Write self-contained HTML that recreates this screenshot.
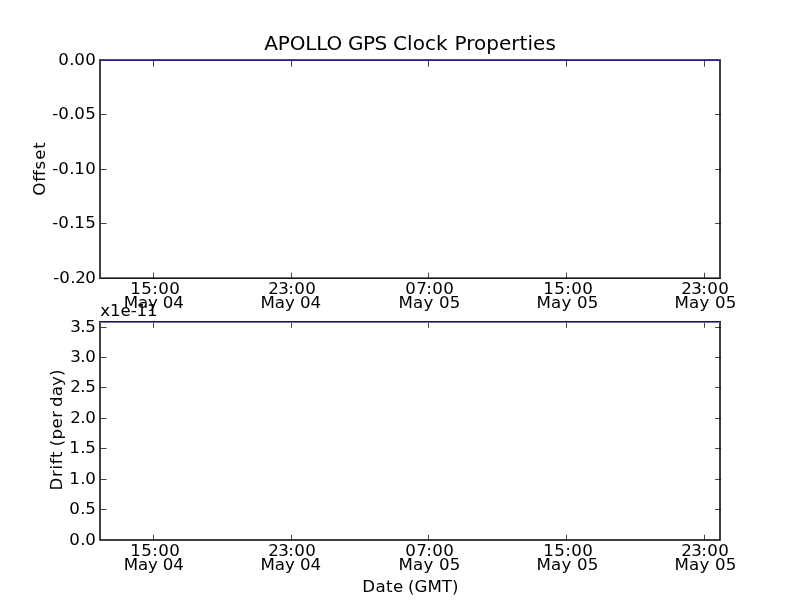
<!DOCTYPE html>
<html><head><meta charset="utf-8"><title>APOLLO GPS Clock Properties</title>
<style>
html,body{margin:0;padding:0;background:#fff;}
body{width:800px;height:600px;overflow:hidden;}
svg{display:block;}
text{font-family:"DejaVu Sans","Liberation Sans",sans-serif;fill:#000;}
.t{font-size:16.67px;}
.ti{font-size:20px;}
.ax{fill:none;stroke:#000;stroke-width:1.5;}
.tk{stroke:#000;stroke-width:1;stroke-opacity:0.73;}
</style></head><body>
<svg width="800" height="600" viewBox="0 0 800 600">
<rect width="800" height="600" fill="#fff"/>

<path class="ax" d="M100 59.5 V279 M720 59.5 V279"/>
<rect x="100.75" y="277" width="618.5" height="1" fill="#707070"/>
<rect x="99.25" y="278" width="621.5" height="1" fill="#181818"/>
<rect x="99" y="59" width="622" height="1" fill="#50504c"/>
<rect x="100" y="60" width="620" height="1" fill="#24247a"/>
<line class="tk" x1="153.5" y1="278.68" x2="153.5" y2="272.8"/>
<line class="tk" x1="153.5" y1="61" x2="153.5" y2="66.7"/>
<line class="tk" x1="291.5" y1="278.68" x2="291.5" y2="272.8"/>
<line class="tk" x1="291.5" y1="61" x2="291.5" y2="66.7"/>
<line class="tk" x1="428.5" y1="278.68" x2="428.5" y2="272.8"/>
<line class="tk" x1="428.5" y1="61" x2="428.5" y2="66.7"/>
<line class="tk" x1="566.5" y1="278.68" x2="566.5" y2="272.8"/>
<line class="tk" x1="566.5" y1="61" x2="566.5" y2="66.7"/>
<line class="tk" x1="704.5" y1="278.68" x2="704.5" y2="272.8"/>
<line class="tk" x1="704.5" y1="61" x2="704.5" y2="66.7"/>
<line class="tk" x1="101" y1="114.5" x2="106.6" y2="114.5"/>
<line class="tk" x1="721" y1="114.5" x2="715.1" y2="114.5"/>
<line class="tk" x1="101" y1="169.5" x2="106.6" y2="169.5"/>
<line class="tk" x1="721" y1="169.5" x2="715.1" y2="169.5"/>
<line class="tk" x1="101" y1="223.5" x2="106.6" y2="223.5"/>
<line class="tk" x1="721" y1="223.5" x2="715.1" y2="223.5"/>
<path class="ax" d="M100 321.32 V540 H720 V321.32"/>
<rect x="99" y="321" width="622" height="1" fill="#16164a"/>
<rect x="100" y="322" width="620" height="1" fill="#72729a"/>
<line class="tk" x1="153.5" y1="540.5" x2="153.5" y2="534.8"/>
<line class="tk" x1="153.5" y1="323" x2="153.5" y2="327.75"/>
<line class="tk" x1="291.5" y1="540.5" x2="291.5" y2="534.8"/>
<line class="tk" x1="291.5" y1="323" x2="291.5" y2="327.75"/>
<line class="tk" x1="428.5" y1="540.5" x2="428.5" y2="534.8"/>
<line class="tk" x1="428.5" y1="323" x2="428.5" y2="327.75"/>
<line class="tk" x1="566.5" y1="540.5" x2="566.5" y2="534.8"/>
<line class="tk" x1="566.5" y1="323" x2="566.5" y2="327.75"/>
<line class="tk" x1="704.5" y1="540.5" x2="704.5" y2="534.8"/>
<line class="tk" x1="704.5" y1="323" x2="704.5" y2="327.75"/>
<line class="tk" x1="101" y1="509.5" x2="106.6" y2="509.5"/>
<line class="tk" x1="721" y1="509.5" x2="715.1" y2="509.5"/>
<line class="tk" x1="101" y1="479.5" x2="106.6" y2="479.5"/>
<line class="tk" x1="721" y1="479.5" x2="715.1" y2="479.5"/>
<line class="tk" x1="101" y1="448.5" x2="106.6" y2="448.5"/>
<line class="tk" x1="721" y1="448.5" x2="715.1" y2="448.5"/>
<line class="tk" x1="101" y1="418.5" x2="106.6" y2="418.5"/>
<line class="tk" x1="721" y1="418.5" x2="715.1" y2="418.5"/>
<line class="tk" x1="101" y1="387.5" x2="106.6" y2="387.5"/>
<line class="tk" x1="721" y1="387.5" x2="715.1" y2="387.5"/>
<line class="tk" x1="101" y1="357.5" x2="106.6" y2="357.5"/>
<line class="tk" x1="721" y1="357.5" x2="715.1" y2="357.5"/>
<line class="tk" x1="101" y1="327.5" x2="106.6" y2="327.5"/>
<line class="tk" x1="721" y1="327.5" x2="715.1" y2="327.5"/>
<text class="t" x="58.20 69.20 74.20 85.20" y="65">0.00</text>
<text class="t" x="52.20 58.20 69.20 74.20 85.20" y="119">-0.05</text>
<text class="t" x="52.20 58.20 69.20 74.20 85.20" y="174">-0.10</text>
<text class="t" x="52.20 58.20 69.20 74.20 85.20" y="228">-0.15</text>
<text class="t" x="53.20 59.20 70.20 75.20 85.20" y="283">-0.20</text>
<text class="t" x="69.20 80.20 85.20" y="545">0.0</text>
<text class="t" x="69.20 80.20 85.20" y="514">0.5</text>
<text class="t" x="69.20 80.20 85.20" y="484">1.0</text>
<text class="t" x="69.20 80.20 85.20" y="453">1.5</text>
<text class="t" x="70.20 80.20 85.20" y="423">2.0</text>
<text class="t" x="70.20 80.20 85.20" y="392">2.5</text>
<text class="t" x="70.20 80.20 85.20" y="362">3.0</text>
<text class="t" x="70.20 80.20 85.20" y="332">3.5</text>
<text class="t" x="130.20 141.20 152.20 158.20 169.20" y="294">15:00</text>
<text class="t" x="130.20 141.20 152.20 158.20 169.20" y="556">15:00</text>
<text class="t" x="268.20 278.20 288.20 294.20 305.20" y="294">23:00</text>
<text class="t" x="268.20 278.20 288.20 294.20 305.20" y="556">23:00</text>
<text class="t" x="405.20 416.20 426.20 432.20 443.20" y="294">07:00</text>
<text class="t" x="405.20 416.20 426.20 432.20 443.20" y="556">07:00</text>
<text class="t" x="543.20 554.20 565.20 571.20 582.20" y="294">15:00</text>
<text class="t" x="543.20 554.20 565.20 571.20 582.20" y="556">15:00</text>
<text class="t" x="681.20 691.20 701.20 707.20 718.20" y="294">23:00</text>
<text class="t" x="681.20 691.20 701.20 707.20 718.20" y="556">23:00</text>
<text class="t" x="123.79" y="308" textLength="60.06" lengthAdjust="spacing">May 04</text>
<text class="t" x="123.79" y="570" textLength="60.06" lengthAdjust="spacing">May 04</text>
<text class="t" x="260.51" y="308" textLength="60.67" lengthAdjust="spacing">May 04</text>
<text class="t" x="260.51" y="570" textLength="60.67" lengthAdjust="spacing">May 04</text>
<text class="t" x="398.51" y="308" textLength="61.86" lengthAdjust="spacing">May 05</text>
<text class="t" x="398.51" y="570" textLength="61.86" lengthAdjust="spacing">May 05</text>
<text class="t" x="536.51" y="308" textLength="61.86" lengthAdjust="spacing">May 05</text>
<text class="t" x="536.51" y="570" textLength="61.86" lengthAdjust="spacing">May 05</text>
<text class="t" x="674.51" y="308" textLength="61.86" lengthAdjust="spacing">May 05</text>
<text class="t" x="674.51" y="570" textLength="61.86" lengthAdjust="spacing">May 05</text>
<text class="t" x="100.28" y="316" textLength="57.44" lengthAdjust="spacing">x1e-11</text>
<text class="t" transform="translate(45,195.75) rotate(-90)" textLength="53.56" lengthAdjust="spacing">Offset</text>
<text class="t g" y="592"><tspan x="362.30" textLength="40.88" lengthAdjust="spacing">Date</tspan> <tspan x="407.96" textLength="50.49" lengthAdjust="spacing">(GMT)</tspan></text>
<text class="t g" transform="translate(62,0) rotate(-90)"><tspan x="-490.53" textLength="38.94" lengthAdjust="spacing">Drift</tspan> <tspan x="-446.27" textLength="35.34" lengthAdjust="spacing">(per</tspan> <tspan x="-406.92" textLength="37.47" lengthAdjust="spacing">day)</tspan></text>
<text class="ti g" y="50"><tspan x="264.20" textLength="78.04" lengthAdjust="spacing">APOLLO</tspan> <tspan x="348.09" textLength="39.10" lengthAdjust="spacing">GPS</tspan> <tspan x="393.01" textLength="54.66" lengthAdjust="spacing">Clock</tspan> <tspan x="454.44" textLength="101.37" lengthAdjust="spacing">Properties</tspan></text>
</svg></body></html>
